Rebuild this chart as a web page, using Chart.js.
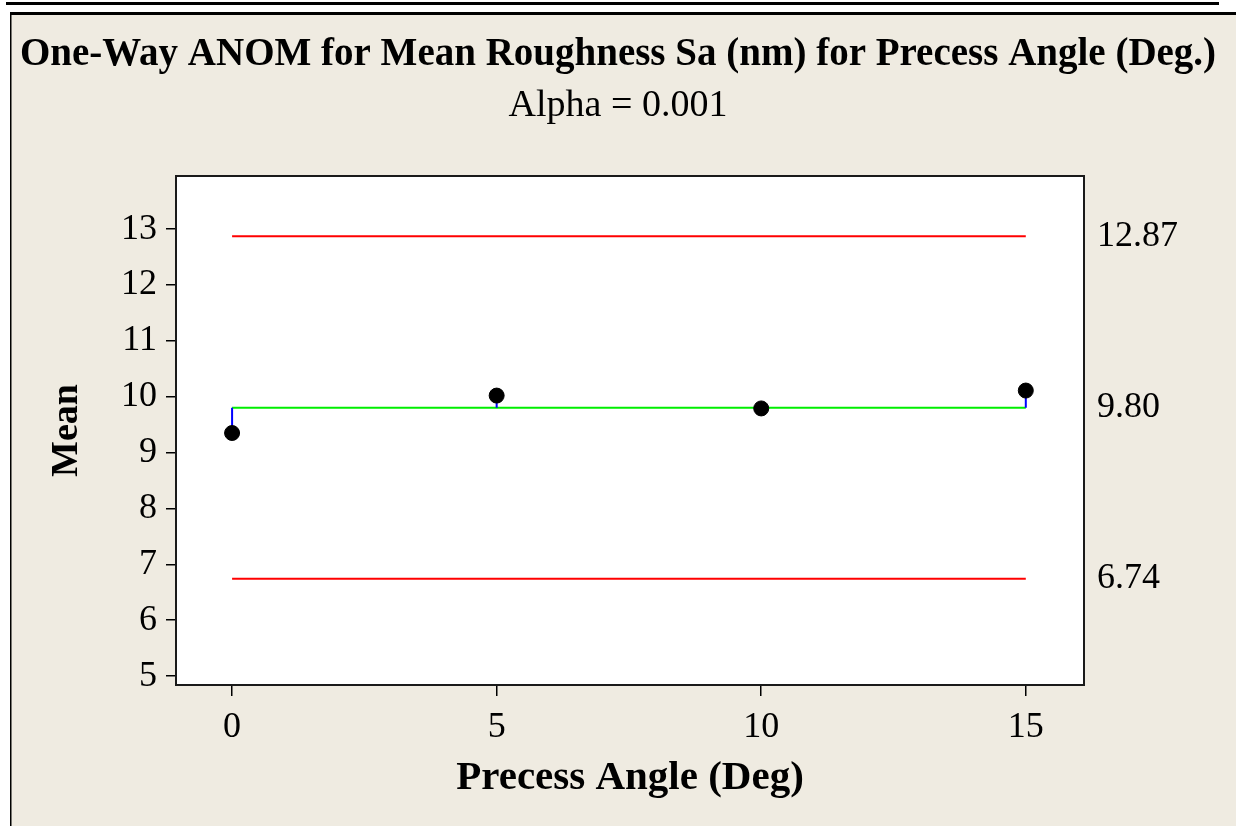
<!DOCTYPE html>
<html>
<head>
<meta charset="utf-8">
<title>One-Way ANOM</title>
<script src="https://cdn.jsdelivr.net/npm/chart.js@4.4.1/dist/chart.umd.min.js"></script>
<style>
  html, body { margin: 0; padding: 0; background: #ffffff; }
  canvas { display: block; }
</style>
</head>
<body>
<canvas id="anomChart" width="1236" height="826"></canvas>
<script>
/* ---------------------------------------------------------
   Data
--------------------------------------------------------- */
const angles = [0, 5, 10, 15];
const means = [9.35, 10.02, 9.79, 10.11];
const centerLine = 9.80;
const upperLimit = 12.87;
const lowerLimit = 6.74;
const xTicks = [0, 5, 10, 15];
const yTicks = [5, 6, 7, 8, 9, 10, 11, 12, 13];
const limitTicks = [upperLimit, centerLine, lowerLimit];

const serif = "'Liberation Serif', 'Times New Roman', serif";
const panelBg = "#efebe1";

// horizontal line across the groups
const flatLine = (value) => [
  { x: angles[0], y: value },
  { x: angles[angles.length - 1], y: value },
];

// one stem per group, from the centre line to the mean, broken by nulls
const stems = [];
angles.forEach((a, i) => {
  stems.push({ x: a, y: centerLine }, { x: a, y: means[i] }, { x: a, y: null });
});

/* ---------------------------------------------------------
   Background panel and plot frame
--------------------------------------------------------- */
const anomDecor = {
  id: "anomDecor",
  beforeDraw(chart) {
    const { ctx, width, height, chartArea } = chart;
    ctx.save();
    ctx.fillStyle = "#ffffff";
    ctx.fillRect(0, 0, width, height);
    ctx.fillStyle = panelBg;
    ctx.fillRect(10, 12, width - 10, height - 12);
    // rule above the figure
    ctx.fillStyle = "#000000";
    ctx.fillRect(6, 2, 1213, 3);
    // panel edges
    ctx.fillRect(10, 12, width - 10, 3);
    ctx.fillRect(10, 12, 1.5, height - 12);
    ctx.fillStyle = "#ffffff";
    ctx.fillRect(chartArea.left, chartArea.top, chartArea.right - chartArea.left, chartArea.bottom - chartArea.top);
    ctx.restore();
  },
  afterDraw(chart) {
    const { ctx, chartArea } = chart;
    ctx.save();
    ctx.strokeStyle = "#1a1a1a";
    ctx.lineWidth = 2;
    ctx.strokeRect(chartArea.left, chartArea.top, chartArea.right - chartArea.left, chartArea.bottom - chartArea.top);
    ctx.restore();
  },
};

/* ---------------------------------------------------------
   Chart
--------------------------------------------------------- */
new Chart(document.getElementById("anomChart"), {
  type: "scatter",
  data: {
    datasets: [
      {
        label: "Means",
        data: angles.map((a, i) => ({ x: a, y: means[i] })),
        backgroundColor: "#000000",
        borderColor: "#000000",
        pointRadius: 7.5,
        pointHoverRadius: 7.5,
      },
      {
        label: "Stems",
        data: stems,
        showLine: true,
        spanGaps: false,
        borderColor: "#0000ff",
        borderWidth: 2,
        pointRadius: 0,
      },
      {
        label: "Center",
        data: flatLine(centerLine),
        showLine: true,
        borderColor: "#00ee00",
        borderWidth: 2,
        pointRadius: 0,
      },
      {
        label: "UDL",
        data: flatLine(upperLimit),
        showLine: true,
        borderColor: "#ff0000",
        borderWidth: 2,
        pointRadius: 0,
      },
      {
        label: "LDL",
        data: flatLine(lowerLimit),
        showLine: true,
        borderColor: "#ff0000",
        borderWidth: 2,
        pointRadius: 0,
      },
    ],
  },
  options: {
    responsive: false,
    animation: false,
    layout: { padding: 0 },
    plugins: {
      legend: { display: false },
      tooltip: { enabled: false },
      title: {
        display: true,
        text: "One-Way ANOM for Mean Roughness Sa (nm) for Precess Angle (Deg.)",
        color: "#000000",
        font: { family: serif, size: 39, weight: "bold" },
        padding: { top: 32, bottom: 4 },
      },
      subtitle: {
        display: true,
        text: "Alpha = 0.001",
        color: "#000000",
        font: { family: serif, size: 38, weight: "normal" },
        padding: { top: 0, bottom: 47.6 },
      },
    },
    scales: {
      x: {
        type: "linear",
        min: -1.06,
        max: 16.1,
        afterFit: (scale) => { scale.height = 141; },
        afterBuildTicks: (scale) => { scale.ticks = xTicks.map((v) => ({ value: v })); },
        border: { display: false },
        grid: { drawOnChartArea: false, drawTicks: true, tickLength: 11, color: "#000000", lineWidth: 1.5 },
        ticks: { color: "#000000", font: { family: serif, size: 36 }, padding: 10, maxRotation: 0 },
        title: {
          display: true,
          text: "Precess Angle (Deg)",
          color: "#000000",
          font: { family: serif, size: 41, weight: "bold" },
          padding: { top: 0, bottom: 23 },
        },
      },
      y: {
        type: "linear",
        min: 4.84,
        max: 13.95,
        afterFit: (scale) => { scale.width = 176; },
        afterBuildTicks: (scale) => { scale.ticks = yTicks.map((v) => ({ value: v })); },
        border: { display: false },
        grid: { drawOnChartArea: false, drawTicks: true, tickLength: 10, color: "#000000", lineWidth: 1.5 },
        ticks: { color: "#000000", font: { family: serif, size: 36 }, padding: 9 },
        title: {
          display: true,
          text: "Mean",
          color: "#000000",
          font: { family: serif, size: 38, weight: "bold" },
          padding: { top: 44, bottom: 0 },
        },
      },
      // decision limits and centre line, labelled on the right
      yLimits: {
        type: "linear",
        position: "right",
        min: 4.84,
        max: 13.95,
        afterFit: (scale) => { scale.width = 152; },
        afterBuildTicks: (scale) => { scale.ticks = limitTicks.map((v) => ({ value: v })); },
        border: { display: false },
        grid: { display: false, drawTicks: false },
        ticks: {
          color: "#000000",
          font: { family: serif, size: 36 },
          padding: 13,
          autoSkip: false,
          callback: (v) => Number(v).toFixed(2),
        },
      },
    },
  },
  plugins: [anomDecor],
});
</script>
</body>
</html>
